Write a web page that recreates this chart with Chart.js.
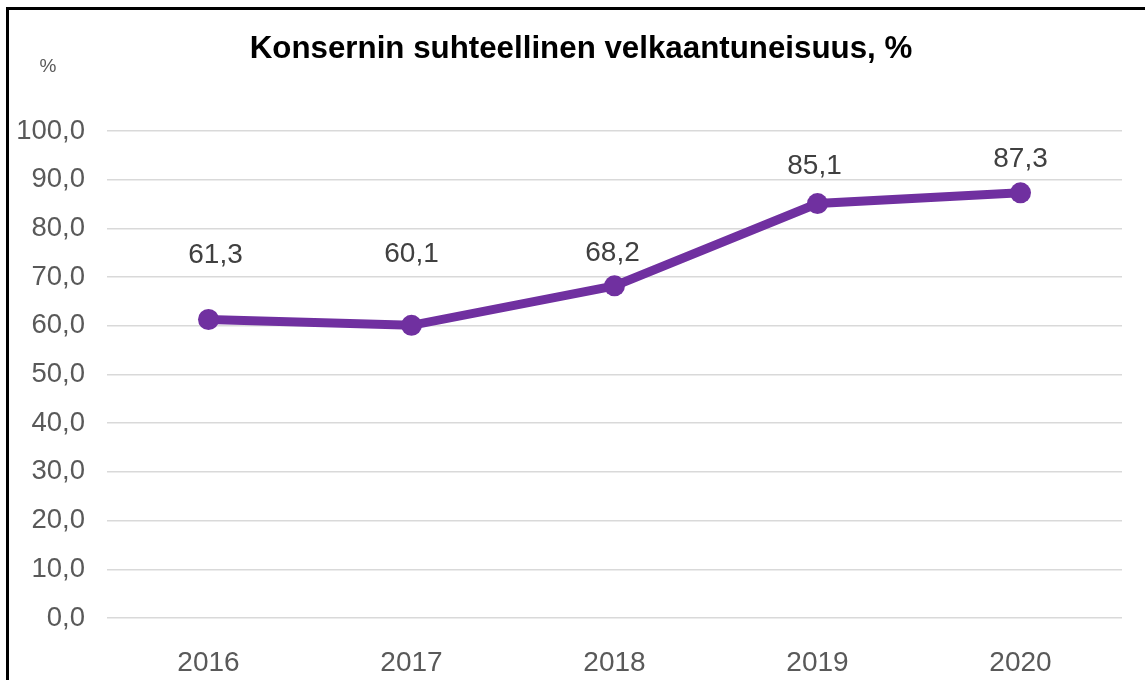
<!DOCTYPE html>
<html>
<head>
<meta charset="utf-8">
<script src="https://cdn.jsdelivr.net/npm/chart.js@4/dist/chart.umd.min.js"></script>
<style>
  html, body { margin: 0; padding: 0; background: #fff; overflow: hidden; }
  #wrap { position: relative; width: 1145px; height: 680px; }
  #frame { position: absolute; left: 6px; top: 7px; width: 1160px; height: 700px;
           border: 3px solid #000; pointer-events: none; box-sizing: border-box; }
  canvas { position: absolute; left: 0; top: 0; }
</style>
</head>
<body>
<div id="wrap">
  <canvas id="chart" width="1145" height="680"></canvas>
  <div id="frame"></div>
</div>
<script>
const title = 'Konsernin suhteellinen velkaantuneisuus, %';
const years = ['2016', '2017', '2018', '2019', '2020'];
const debtRatio = [61.3, 60.1, 68.2, 85.1, 87.3];
const yTicks = [0, 10, 20, 30, 40, 50, 60, 70, 80, 90, 100];

// value label placement relative to each point (px), hand-placed like in the original
const labelLift = [64, 71, 33, 37, 34];
const labelShift = [7, 0, -2, -3, 0];

const fmt = v => v.toFixed(1).replace('.', ',');
const FONT = '"Liberation Sans", Arial, sans-serif';

const extras = {
  id: 'extras',
  afterDraw(chart) {
    const ctx = chart.ctx;
    ctx.save();
    ctx.textAlign = 'center';

    ctx.fillStyle = '#000';
    ctx.font = 'bold 31.3px ' + FONT;
    ctx.textBaseline = 'alphabetic';
    ctx.fillText(title, 581, 58);

    ctx.textBaseline = 'middle';
    ctx.fillStyle = '#595959';
    ctx.font = '19px ' + FONT;
    ctx.fillText('%', 48, 67);

    const meta = chart.getDatasetMeta(0);
    ctx.fillStyle = '#404040';
    ctx.font = '28px ' + FONT;
    meta.data.forEach((pt, i) => {
      ctx.fillText(fmt(debtRatio[i]), pt.x + labelShift[i], pt.y - labelLift[i]);
    });
    ctx.restore();
  }
};

new Chart(document.getElementById('chart').getContext('2d'), {
  type: 'line',
  data: {
    labels: years,
    datasets: [{
      data: debtRatio,
      borderColor: '#7030a0',
      backgroundColor: '#7030a0',
      borderWidth: 9,
      pointRadius: 10.5,
      pointBorderWidth: 0,
      tension: 0
    }]
  },
  options: {
    responsive: false,
    animation: false,
    layout: { padding: { left: 10, right: 23, top: 131, bottom: 0 } },
    plugins: {
      legend: { display: false },
      tooltip: { enabled: false },
      title: { display: false }
    },
    scales: {
      x: {
        offset: true,
        afterFit(scale) { scale.height = 62; },
        grid: { display: false },
        border: { display: false },
        ticks: {
          color: '#595959',
          padding: 20,
          maxRotation: 0,
          font: { family: FONT, size: 28 }
        }
      },
      y: {
        min: 0,
        max: 100,
        afterFit(scale) { scale.width = 97; },
        afterBuildTicks(scale) { scale.ticks = yTicks.map(v => ({ value: v })); },
        grid: { color: '#d9d9d9', lineWidth: 1.5, drawTicks: false },
        border: { display: false },
        ticks: {
          color: '#595959',
          padding: 22,
          font: { family: FONT, size: 27.5 },
          callback: v => fmt(v)
        }
      }
    }
  },
  plugins: [extras]
});
</script>
</body>
</html>
